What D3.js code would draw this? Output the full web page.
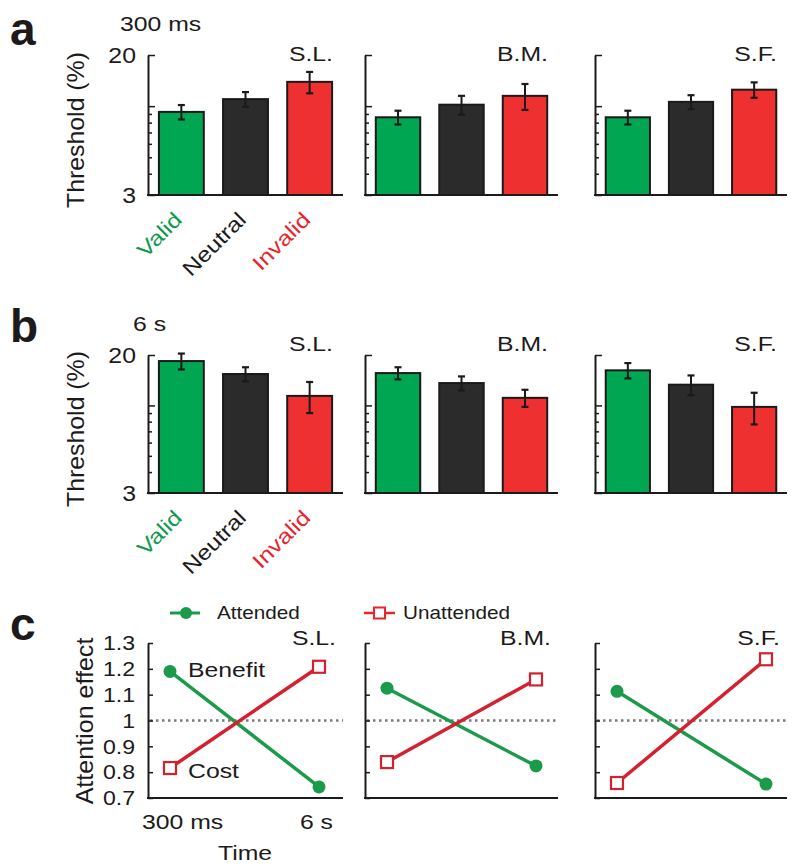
<!DOCTYPE html>
<html><head><meta charset="utf-8">
<script src="https://cdn.jsdelivr.net/npm/d3@7"></script>
<style>
body{margin:0;background:#fff}
svg{display:block}
text{font-family:"Liberation Sans",Arial,Helvetica,sans-serif;fill:#1c1a1b}
</style>
</head><body>
<svg id="chart" width="800" height="867"></svg>
<script>
// ---------------- data ----------------
const subjects = ["S.L.", "B.M.", "S.F."];
const categories = ["Valid", "Neutral", "Invalid"];
// panel a: 300 ms, thresholds (%) per subject [Valid, Neutral, Invalid]
const threshold300ms = [[9.25, 11.0, 13.9], [8.6, 10.2, 11.5], [8.6, 10.6, 12.5]];
const error300ms     = [[0.9, 1.1, 2.0],    [0.8, 1.3, 2.0],    [0.8, 1.0, 1.3]];
// panel b: 6 s
const threshold6s    = [[18.4, 15.4, 11.4], [15.6, 13.6, 11.1], [16.2, 13.3, 9.8]];
const error6s        = [[2.0, 1.5, 2.4],    [1.3, 1.3, 1.3],    [1.7, 1.8, 2.1]];
const thresholdTicks = [3, 4, 5, 6, 7, 8, 9, 10, 20];
const thresholdMajor = [3, 10, 20];
const thresholdLabeled = [3, 20];
// panel c: attention effect
const timeLabels = ["300 ms", "6 s"];
const attended   = [[1.19, 0.743], [1.125, 0.824], [1.113, 0.754]];
const unattended = [[0.816, 1.208], [0.839, 1.159], [0.758, 1.237]];
const effectTicks = [0.7, 0.8, 0.9, 1, 1.1, 1.2, 1.3];
const effectTickLabels = ["0.7", "0.8", "0.9", "1", "1.1", "1.2", "1.3"];

// ---------------- layout ----------------
const svg = d3.select("#chart");
const panelX = [148, 365, 595];
const panelW = [195, 193, 192];
const rowA = {top: 55, bottom: 195, subjY: 61};
const rowB = {top: 355, bottom: 493, subjY: 351};
const rowC = {top: 643, bottom: 798, subjY: 645};
const SX = 1.18;
const barColors = {Valid: "#00a651", Neutral: "#2b2b2b", Invalid: "#ee3130"};
const labelColors = {Valid: "#0f9a4c", Neutral: "#1c1a1b", Invalid: "#e8242c"};
const green = "#1c9a4b", red = "#d42130";

function label(parent, x, y, str, o = {}) {
  const t = parent.append("text")
    .attr("transform", `translate(${x},${y}) rotate(${o.rotate || 0}) scale(${o.sx || SX},1)`)
    .attr("font-size", o.size || 21)
    .attr("text-anchor", o.anchor || "start")
    .text(str);
  if (o.fill) t.style("fill", o.fill);
  if (o.weight) t.attr("font-weight", o.weight);
  return t;
}

function styleAxis(ax, size, sx) {
  ax.attr("font-family", null).attr("font-size", null);
  ax.select(".domain").attr("stroke", "#1c1a1b").attr("stroke-width", 2);
  ax.selectAll(".tick line").attr("stroke", "#1c1a1b").attr("stroke-width", 1.5);
  ax.selectAll(".tick text")
    .attr("font-size", size)
    .attr("transform", function () { const x = +this.getAttribute("x"); return `translate(${x},0) scale(${sx},1)`; })
    .attr("x", 0)
    .style("fill", "#1c1a1b");
}

// ---------------- bar rows ----------------
function barRow(row, values, errors, panelLetter, timeText, letterY, timeY) {
  label(svg, 10, letterY, panelLetter, {size: 46, weight: "bold", sx: 1});
  label(svg, timeText.x, timeY, timeText.t);
  label(svg, 84, (row.top + row.bottom) / 2 + 5, "Threshold (%)", {rotate: -90, anchor: "middle", size: 23, sx: 1.08});

  subjects.forEach((s, pi) => {
    const x0 = panelX[pi], w = panelW[pi];
    const g = svg.append("g");
    const y = d3.scaleLog().domain([3, 20]).range([row.bottom, row.top]);
    const x = d3.scaleBand().domain(categories).range([x0, x0 + w]).paddingInner(0.3).paddingOuter(0.17);

    // bars
    g.selectAll("rect.bar").data(categories).join("rect")
      .attr("x", d => x(d)).attr("width", x.bandwidth())
      .attr("y", (d, i) => y(values[pi][i]))
      .attr("height", (d, i) => row.bottom - y(values[pi][i]))
      .attr("fill", d => barColors[d]).attr("stroke", "#1a1a1a").attr("stroke-width", 2);

    // error bars
    const eb = g.selectAll("g.err").data(categories).join("g");
    eb.append("line")
      .attr("x1", d => x(d) + x.bandwidth() / 2).attr("x2", d => x(d) + x.bandwidth() / 2)
      .attr("y1", (d, i) => y(values[pi][i] + errors[pi][i]))
      .attr("y2", (d, i) => y(values[pi][i] - errors[pi][i]))
      .attr("stroke", "#1a1a1a").attr("stroke-width", 2);
    [1, -1].forEach(sg => {
      eb.append("line")
        .attr("x1", d => x(d) + x.bandwidth() / 2 - 3.5).attr("x2", d => x(d) + x.bandwidth() / 2 + 3.5)
        .attr("y1", (d, i) => y(values[pi][i] + sg * errors[pi][i]))
        .attr("y2", (d, i) => y(values[pi][i] + sg * errors[pi][i]))
        .attr("stroke", "#1a1a1a").attr("stroke-width", 2.2);
    });

    // axes
    const minor = g.append("g").attr("transform", `translate(${x0},0)`)
      .call(d3.axisLeft(y).tickValues(thresholdTicks.filter(v => !thresholdMajor.includes(v)))
        .tickSizeInner(-4).tickSizeOuter(0).tickFormat(""));
    minor.select(".domain").remove();
    minor.selectAll(".tick line").attr("stroke", "#1c1a1b").attr("stroke-width", 1.5);
    const major = g.append("g").attr("transform", `translate(${x0},0)`)
      .call(d3.axisLeft(y).tickValues(thresholdMajor).tickSizeInner(-7).tickSizeOuter(0).tickPadding(12)
        .tickFormat(d => (pi === 0 && thresholdLabeled.includes(d)) ? String(d) : ""));
    styleAxis(major, 22, 1.13);
    g.append("line").attr("x1", x0 - 1).attr("x2", x0 + w).attr("y1", row.bottom).attr("y2", row.bottom)
      .attr("stroke", "#1c1a1b").attr("stroke-width", 2);

    label(g, x0 + w - 10, row.subjY, s, {anchor: "end"});

    if (pi === 0) {
      categories.forEach(c => {
        label(g, x(c) + x.bandwidth() / 2 + 2, row.bottom + 26, c, {rotate: -45, anchor: "end", fill: labelColors[c]});
      });
    }
  });
}

barRow(rowA, threshold300ms, error300ms, "a", {x: 120, t: "300 ms"}, 45, 31);
barRow(rowB, threshold6s, error6s, "b", {x: 133, t: "6 s"}, 342, 331);

// ---------------- panel c ----------------
label(svg, 10, 640, "c", {size: 46, weight: "bold", sx: 1});
label(svg, 93, 721, "Attention effect", {rotate: -90, anchor: "middle", size: 23, sx: 1.09});

// legend
const lg = svg.append("g");
lg.append("line").attr("x1", 170).attr("x2", 200).attr("y1", 613).attr("y2", 613).attr("stroke", green).attr("stroke-width", 3);
lg.append("circle").attr("cx", 186).attr("cy", 613).attr("r", 6).attr("fill", green);
label(lg, 217, 619, "Attended", {size: 18, sx: 1.15});
lg.append("line").attr("x1", 364).attr("x2", 395).attr("y1", 613).attr("y2", 613).attr("stroke", "#e8252a").attr("stroke-width", 2.5);
lg.append("rect").attr("x", 374).attr("y", 607.5).attr("width", 11).attr("height", 11).attr("fill", "#fff").attr("stroke", "#e8252a").attr("stroke-width", 2);
label(lg, 403, 619, "Unattended", {size: 18, sx: 1.15});

subjects.forEach((s, pi) => {
  const x0 = panelX[pi], w = panelW[pi];
  const g = svg.append("g");
  const y = d3.scaleLinear().domain([0.7, 1.3]).range([rowC.bottom, rowC.top]);
  const x = d3.scalePoint().domain(timeLabels).range([x0 + 22, x0 + 171]);

  // reference line at 1
  g.append("line").attr("x1", x0 + 2).attr("x2", x0 + w).attr("y1", y(1)).attr("y2", y(1))
    .attr("stroke", "#7a7a7a").attr("stroke-width", 2.5).attr("stroke-dasharray", "2.5,3.5");

  const line = d3.line().x((d, i) => x(timeLabels[i])).y(d => y(d));
  g.append("path").datum(attended[pi]).attr("d", line).attr("fill", "none").attr("stroke", green).attr("stroke-width", 3.5);
  g.append("path").datum(unattended[pi]).attr("d", line).attr("fill", "none").attr("stroke", red).attr("stroke-width", 3.5);
  g.selectAll("circle.att").data(attended[pi]).join("circle")
    .attr("cx", (d, i) => x(timeLabels[i])).attr("cy", d => y(d)).attr("r", 6.5).attr("fill", green);
  g.selectAll("rect.un").data(unattended[pi]).join("rect")
    .attr("x", (d, i) => x(timeLabels[i]) - 6).attr("y", d => y(d) - 6)
    .attr("width", 12).attr("height", 12).attr("fill", "#fff").attr("stroke", red).attr("stroke-width", 2.2);

  const ax = g.append("g").attr("transform", `translate(${x0},0)`)
    .call(d3.axisLeft(y).tickValues(effectTicks).tickSizeInner(-5).tickSizeOuter(0).tickPadding(13)
      .tickFormat((d, i) => pi === 0 ? effectTickLabels[i] : ""));
  styleAxis(ax, 21, 1.1);
  g.append("line").attr("x1", x0 - 1).attr("x2", x0 + w).attr("y1", rowC.bottom).attr("y2", rowC.bottom)
    .attr("stroke", "#1c1a1b").attr("stroke-width", 2);

  label(g, x0 + w - 7, rowC.subjY, s, {anchor: "end"});

  if (pi === 0) {
    label(g, x0 - 6, 829, timeLabels[0]);
    label(g, x0 + w - 10, 829, timeLabels[1], {anchor: "end"});
    label(g, x0 + 97, 860, "Time", {anchor: "middle"});
    label(g, x0 + 40, 677, "Benefit");
    label(g, x0 + 40, 778, "Cost");
  }
});
</script>
</body></html>
